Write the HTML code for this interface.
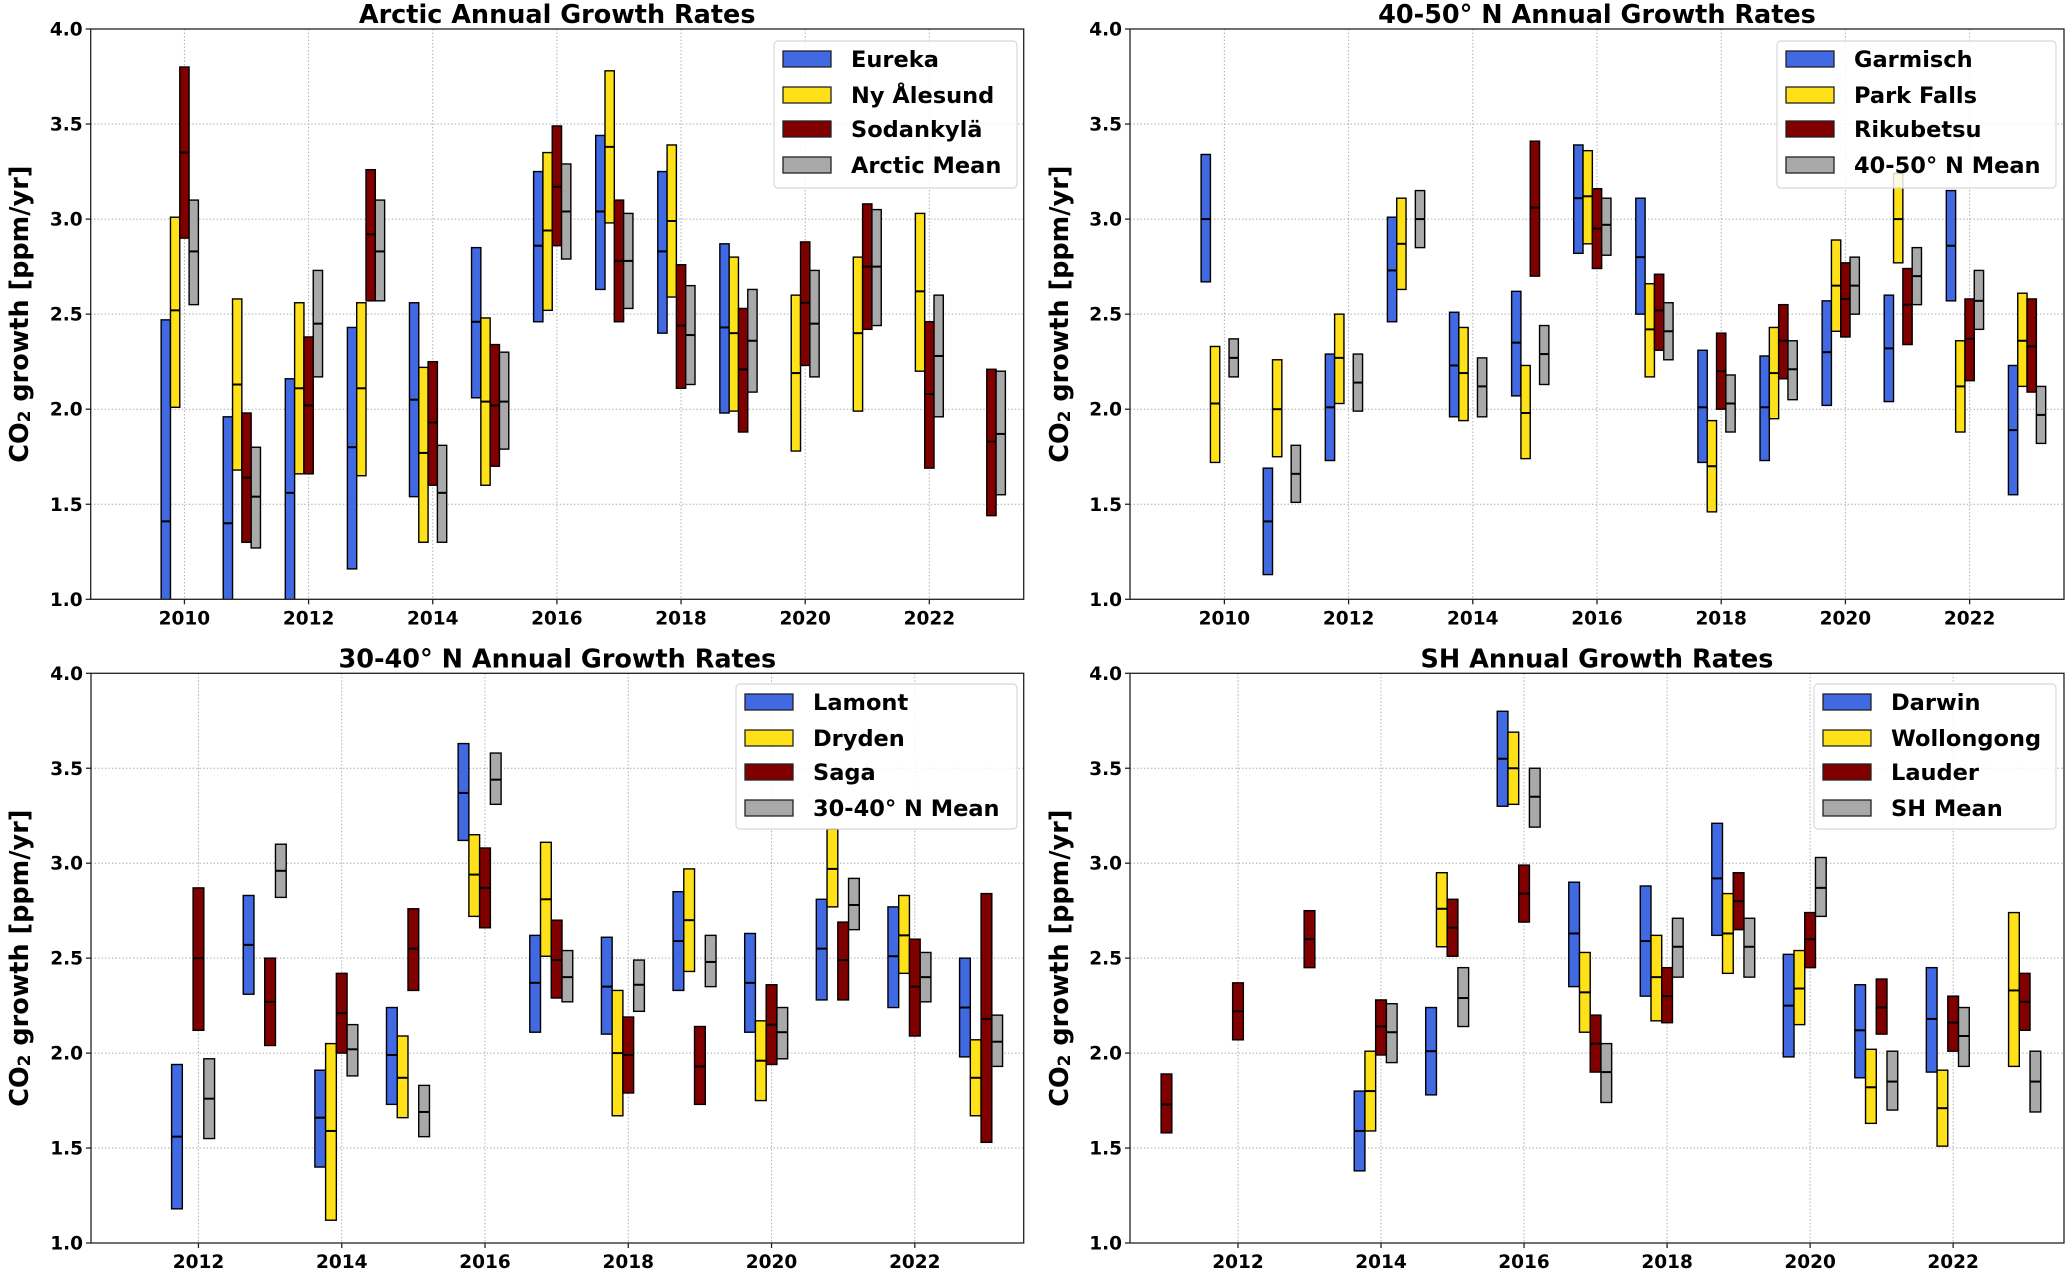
<!DOCTYPE html>
<html><head><meta charset="utf-8">
<style>
html,body{margin:0;padding:0;background:#fff;}
svg{display:block;font-family:"DejaVu Sans","Liberation Sans",sans-serif;}
</style></head>
<body>
<svg id="chart" width="2067" height="1269" viewBox="0 0 2067 1269" xmlns="http://www.w3.org/2000/svg"></svg>
<script>
// ---- Arctic panel data (years 2010..2023) ----
const arcticYears = [2010,2011,2012,2013,2014,2015,2016,2017,2018,2019,2020,2021,2022,2023];
const eurekaLow  = [0.9,0.9,0.9,1.16,1.54,2.06,2.46,2.63,2.40,1.98,null,null,null,null];
const eurekaHigh = [2.47,1.96,2.16,2.43,2.56,2.85,3.25,3.44,3.25,2.87,null,null,null,null];
const eurekaMid  = [1.41,1.40,1.56,1.80,2.05,2.46,2.86,3.04,2.83,2.43,null,null,null,null];
const nyLow  = [2.01,1.68,1.66,1.65,1.30,1.60,2.52,2.98,2.59,1.99,1.78,1.99,2.20,null];
const nyHigh = [3.01,2.58,2.56,2.56,2.22,2.48,3.35,3.78,3.39,2.80,2.60,2.80,3.03,null];
const nyMid  = [2.52,2.13,2.11,2.11,1.77,2.04,2.94,3.38,2.99,2.40,2.19,2.40,2.62,null];
const sodLow  = [2.90,1.30,1.66,2.57,1.60,1.70,2.86,2.46,2.11,1.88,2.23,2.42,1.69,1.44];
const sodHigh = [3.80,1.98,2.38,3.26,2.25,2.34,3.49,3.10,2.76,2.53,2.88,3.08,2.46,2.21];
const sodMid  = [3.35,1.64,2.02,2.92,1.93,2.02,3.17,2.78,2.44,2.21,2.56,2.75,2.08,1.83];
const arcMeanLow  = [2.55,1.27,2.17,2.57,1.30,1.79,2.79,2.53,2.13,2.09,2.17,2.44,1.96,1.55];
const arcMeanHigh = [3.10,1.80,2.73,3.10,1.81,2.30,3.29,3.03,2.65,2.63,2.73,3.05,2.60,2.20];
const arcMeanMid  = [2.83,1.54,2.45,2.83,1.56,2.04,3.04,2.78,2.39,2.36,2.45,2.75,2.28,1.87];
// ---- 40-50 N panel data (years 2010..2023) ----
const midYears = [2010,2011,2012,2013,2014,2015,2016,2017,2018,2019,2020,2021,2022,2023];
const garLow  = [2.67,1.13,1.73,2.46,1.96,2.07,2.82,2.50,1.72,1.73,2.02,2.04,2.57,1.55];
const garHigh = [3.34,1.69,2.29,3.01,2.51,2.62,3.39,3.11,2.31,2.28,2.57,2.60,3.15,2.23];
const garMid  = [3.00,1.41,2.01,2.73,2.23,2.35,3.11,2.80,2.01,2.01,2.30,2.32,2.86,1.89];
const pfLow  = [1.72,1.75,2.03,2.63,1.94,1.74,2.87,2.17,1.46,1.95,2.41,2.77,1.88,2.12];
const pfHigh = [2.33,2.26,2.50,3.11,2.43,2.23,3.36,2.66,1.94,2.43,2.89,3.24,2.36,2.61];
const pfMid  = [2.03,2.00,2.27,2.87,2.19,1.98,3.12,2.42,1.70,2.19,2.65,3.00,2.12,2.36];
const rikLow  = [null,null,null,null,null,2.70,2.74,2.31,2.00,2.16,2.38,2.34,2.15,2.09];
const rikHigh = [null,null,null,null,null,3.41,3.16,2.71,2.40,2.55,2.77,2.74,2.58,2.58];
const rikMid  = [null,null,null,null,null,3.06,2.95,2.52,2.20,2.36,2.58,2.55,2.37,2.33];
const midMeanLow  = [2.17,1.51,1.99,2.85,1.96,2.13,2.81,2.26,1.88,2.05,2.50,2.55,2.42,1.82];
const midMeanHigh = [2.37,1.81,2.29,3.15,2.27,2.44,3.11,2.56,2.18,2.36,2.80,2.85,2.73,2.12];
const midMeanMid  = [2.27,1.66,2.14,3.00,2.12,2.29,2.97,2.41,2.03,2.21,2.65,2.70,2.57,1.97];
// ---- 30-40 N panel data (years 2012..2023) ----
const subYears = [2012,2013,2014,2015,2016,2017,2018,2019,2020,2021,2022,2023];
const lamLow  = [1.18,2.31,1.40,1.73,3.12,2.11,2.10,2.33,2.11,2.28,2.24,1.98];
const lamHigh = [1.94,2.83,1.91,2.24,3.63,2.62,2.61,2.85,2.63,2.81,2.77,2.50];
const lamMid  = [1.56,2.57,1.66,1.99,3.37,2.37,2.35,2.59,2.37,2.55,2.51,2.24];
const dryLow  = [null,null,1.12,1.66,2.72,2.51,1.67,2.43,1.75,2.77,2.42,1.67];
const dryHigh = [null,null,2.05,2.09,3.15,3.11,2.33,2.97,2.17,3.18,2.83,2.07];
const dryMid  = [null,null,1.59,1.87,2.94,2.81,2.00,2.70,1.96,2.97,2.62,1.87];
const sagaLow  = [2.12,2.04,2.00,2.33,2.66,2.29,1.79,1.73,1.94,2.28,2.09,1.53];
const sagaHigh = [2.87,2.50,2.42,2.76,3.08,2.70,2.19,2.14,2.36,2.69,2.60,2.84];
const sagaMid  = [2.50,2.27,2.21,2.55,2.87,2.49,1.99,1.93,2.15,2.49,2.35,2.18];
const subMeanLow  = [1.55,2.82,1.88,1.56,3.31,2.27,2.22,2.35,1.97,2.65,2.27,1.93];
const subMeanHigh = [1.97,3.10,2.15,1.83,3.58,2.54,2.49,2.62,2.24,2.92,2.53,2.20];
const subMeanMid  = [1.76,2.96,2.02,1.69,3.44,2.40,2.36,2.48,2.11,2.78,2.40,2.06];
// ---- SH panel data (years 2011..2023) ----
const shYears = [2011,2012,2013,2014,2015,2016,2017,2018,2019,2020,2021,2022,2023];
const darLow  = [null,null,null,1.38,1.78,3.30,2.35,2.30,2.62,1.98,1.87,1.90,null];
const darHigh = [null,null,null,1.80,2.24,3.80,2.90,2.88,3.21,2.52,2.36,2.45,null];
const darMid  = [null,null,null,1.59,2.01,3.55,2.63,2.59,2.92,2.25,2.12,2.18,null];
const wolLow  = [null,null,null,1.59,2.56,3.31,2.11,2.17,2.42,2.15,1.63,1.51,1.93];
const wolHigh = [null,null,null,2.01,2.95,3.69,2.53,2.62,2.84,2.54,2.02,1.91,2.74];
const wolMid  = [null,null,null,1.80,2.76,3.50,2.32,2.40,2.63,2.34,1.82,1.71,2.33];
const lauLow  = [1.58,2.07,2.45,1.99,2.51,2.69,1.90,2.16,2.65,2.45,2.10,2.01,2.12];
const lauHigh = [1.89,2.37,2.75,2.28,2.81,2.99,2.20,2.45,2.95,2.74,2.39,2.30,2.42];
const lauMid  = [1.73,2.22,2.60,2.14,2.66,2.84,2.05,2.30,2.80,2.60,2.24,2.16,2.27];
const shMeanLow  = [null,null,null,1.95,2.14,3.19,1.74,2.40,2.40,2.72,1.70,1.93,1.69];
const shMeanHigh = [null,null,null,2.26,2.45,3.50,2.05,2.71,2.71,3.03,2.01,2.24,2.01];
const shMeanMid  = [null,null,null,2.11,2.29,3.35,1.90,2.56,2.56,2.87,1.85,2.09,1.85];
// tick labels
const yTickValues = [1.0,1.5,2.0,2.5,3.0,3.5,4.0];
const xTicksTop = [2010,2012,2014,2016,2018,2020,2022];
const xTicksBottom = [2012,2014,2016,2018,2020,2022];

const NS = "http://www.w3.org/2000/svg";
const svg = document.getElementById('chart');
const COLORS = ['#4169e1','#ffe119','#800000','#a9a9a9'];
const OFFSETS = [-0.3,-0.15,0,0.15];
const BARW = 0.15;

function mk(tag, attrs, parent){
  const e = document.createElementNS(NS, tag);
  for (const k in attrs) e.setAttribute(k, attrs[k]);
  (parent||svg).appendChild(e);
  return e;
}

const panels = [
  {name:'arctic', title:'Arctic Annual Growth Rates', L:90.7, R:1023.7, T:29, B:599.3, xmin:2008.49, xmax:2023.52, xticks:xTicksTop,
   years:arcticYears, labels:['Eureka','Ny Ålesund','Sodankylä','Arctic Mean'],
   series:[[eurekaLow,eurekaHigh,eurekaMid],[nyLow,nyHigh,nyMid],[sodLow,sodHigh,sodMid],[arcMeanLow,arcMeanHigh,arcMeanMid]],
   legend:{x:774,y:41,w:243,h:147}, ylabX:20},
  {name:'north-40-50', title:'40-50° N Annual Growth Rates', L:1130, R:2064, T:29, B:599.3, xmin:2008.48, xmax:2023.52, xticks:xTicksTop,
   years:midYears, labels:['Garmisch','Park Falls','Rikubetsu','40-50° N Mean'],
   series:[[garLow,garHigh,garMid],[pfLow,pfHigh,pfMid],[rikLow,rikHigh,rikMid],[midMeanLow,midMeanHigh,midMeanMid]],
   legend:{x:1777,y:41,w:279,h:147}, ylabX:1060},
  {name:'north-30-40', title:'30-40° N Annual Growth Rates', L:91, R:1023.7, T:673.3, B:1243, xmin:2010.50, xmax:2023.52, xticks:xTicksBottom,
   years:subYears, labels:['Lamont','Dryden','Saga','30-40° N Mean'],
   series:[[lamLow,lamHigh,lamMid],[dryLow,dryHigh,dryMid],[sagaLow,sagaHigh,sagaMid],[subMeanLow,subMeanHigh,subMeanMid]],
   legend:{x:736,y:684,w:281,h:145}, ylabX:20},
  {name:'southern-hemisphere', title:'SH Annual Growth Rates', L:1130, R:2064, T:673.3, B:1243, xmin:2010.49, xmax:2023.55, xticks:xTicksBottom,
   years:shYears, labels:['Darwin','Wollongong','Lauder','SH Mean'],
   series:[[darLow,darHigh,darMid],[wolLow,wolHigh,wolMid],[lauLow,lauHigh,lauMid],[shMeanLow,shMeanHigh,shMeanMid]],
   legend:{x:1814,y:684,w:242,h:145}, ylabX:1060}
];

panels.forEach(p => {
  const g = mk('g', {});
  
  
  const xs = v => p.L + (v - p.xmin) / (p.xmax - p.xmin) * (p.R - p.L);
  const ys = v => p.B - (v - 1.0) / 3.0 * (p.B - p.T);
  const cid = 'clip-' + p.name;
  const cp = mk('clipPath', {id:cid}, g);
  mk('rect', {x:p.L, y:p.T, width:p.R-p.L, height:p.B-p.T}, cp);
  yTickValues.forEach(v => {
    const l = mk('line', {x1:p.L, x2:p.R, y1:ys(v), y2:ys(v), stroke:'#b0b0b0', 'stroke-width':1, 'stroke-dasharray':'1.5,2'}, g);
    
    
  });
  p.xticks.forEach(v => {
    const l = mk('line', {x1:xs(v), x2:xs(v), y1:p.T, y2:p.B, stroke:'#b0b0b0', 'stroke-width':1, 'stroke-dasharray':'1.5,2'}, g);
    
    
  });
  const bg = mk('g', {'clip-path':'url(#'+cid+')'}, g);
  p.series.forEach((s, si) => {
    const [lo, hi, md] = s;
    p.years.forEach((yr, i) => {
      if (lo[i] == null) return;
      const x0 = xs(yr + OFFSETS[si] - BARW/2), x1 = xs(yr + OFFSETS[si] + BARW/2);
      const r = mk('rect', {x:x0, y:ys(hi[i]), width:x1-x0, height:ys(lo[i])-ys(hi[i]), fill:COLORS[si], stroke:'#000', 'stroke-width':1.4}, bg);
      
      
      const m = mk('line', {x1:x0, x2:x1, y1:ys(md[i]), y2:ys(md[i]), stroke:'#000', 'stroke-width':2}, bg);
      
      
    });
  });
  const fr = mk('rect', {x:p.L, y:p.T, width:p.R-p.L, height:p.B-p.T, fill:'none', stroke:'#222', 'stroke-width':1.3}, g);
  
  
  yTickValues.forEach(v => {
    mk('line', {x1:p.L-5, x2:p.L, y1:ys(v), y2:ys(v), stroke:'#222', 'stroke-width':1.3}, g);
    const t = mk('text', {x:p.L-8, y:ys(v)+6.5, 'text-anchor':'end', 'font-size':18.5, 'font-weight':'bold', fill:'#000'}, g);
    t.textContent = v.toFixed(1);
    
    
  });
  p.xticks.forEach(v => {
    mk('line', {x1:xs(v), x2:xs(v), y1:p.B, y2:p.B+5, stroke:'#222', 'stroke-width':1.3}, g);
    const t = mk('text', {x:xs(v), y:p.B+25, 'text-anchor':'middle', 'font-size':18.5, 'font-weight':'bold', fill:'#000'}, g);
    t.textContent = v;
    
    
  });
  const tt = mk('text', {x:(p.L+p.R)/2, y:p.T-6, 'text-anchor':'middle', 'font-size':25.5, 'font-weight':'bold', fill:'#000'}, g);
  tt.textContent = p.title;
  
  
  const cy = (p.T+p.B)/2;
  const yl = mk('text', {x:p.ylabX, y:cy, transform:'rotate(-90 '+p.ylabX+' '+cy+')', 'text-anchor':'middle', 'dominant-baseline':'central', 'font-size':25.5, 'font-weight':'bold', fill:'#000'}, g);
  yl.innerHTML = 'CO<tspan font-size="17" dy="5">2</tspan><tspan dy="-5"> growth [ppm/yr]</tspan>';
  
  
  const lg = mk('g', {}, g);
  
  
  mk('rect', {x:p.legend.x, y:p.legend.y, width:p.legend.w, height:p.legend.h, rx:4, fill:'#fff', 'fill-opacity':0.85, stroke:'#d8d8d8', 'stroke-width':1.2}, lg);
  const rowY = [18, 54, 88, 124];
  p.labels.forEach((lab, i) => {
    const yy = p.legend.y + rowY[i];
    const e = mk('g', {}, lg);
    
    
    mk('rect', {x:p.legend.x+9, y:yy-8, width:48, height:16, fill:COLORS[i], stroke:'#222', 'stroke-width':1.3}, e);
    const t = mk('text', {x:p.legend.x+77, y:yy+8, 'font-size':22.5, 'font-weight':'bold', fill:'#000'}, e);
    t.textContent = lab;
  });
});
</script>
</body></html>
